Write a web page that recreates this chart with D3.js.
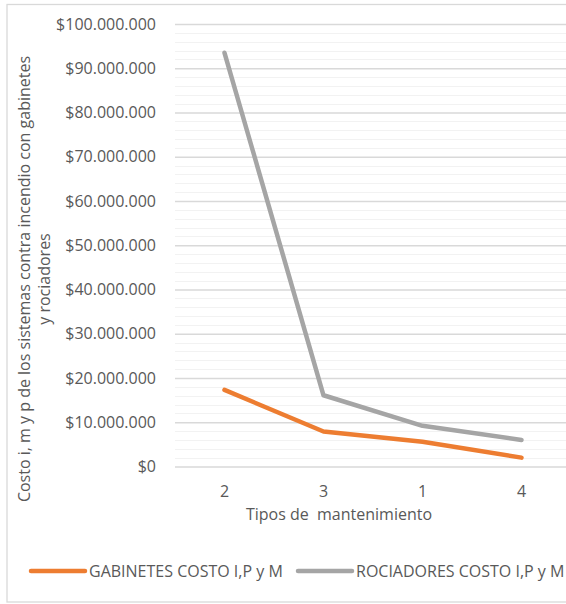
<!DOCTYPE html>
<html><head><meta charset="utf-8">
<script src="https://cdn.jsdelivr.net/npm/d3@7"></script>
<style>
html,body{margin:0;padding:0;background:#fff;}
svg{display:block;font-family:"Open Sans", "Noto Sans", sans-serif;}
</style></head>
<body>
<svg id="c" width="566" height="604"></svg>
<script>
const categories = ["2", "3", "1", "4"];
const gabinetes = [17300000, 7900000, 5600000, 2000000];
const rociadores = [93500000, 16100000, 9200000, 6000000];
const seriesNames = ["GABINETES COSTO I,P y M", "ROCIADORES COSTO I,P y M"];
const yTicks = [0,10000000,20000000,30000000,40000000,50000000,60000000,70000000,80000000,90000000,100000000];
const yTitle = ["Costo i, m y p de los sistemas contra incendio con gabinetes", "y rociadores"];
const xTitle = "Tipos de  mantenimiento";
const colors = ["#ED7D31", "#A5A5A5"];

(function(){
const svg = d3.select("#c");
const pL = 175, pR = 571, pT = 24, pB = 466.5;
const fs = 16;
const x = d3.scaleBand().domain(categories).range([pL, pR]);
const y = d3.scaleLinear().domain([0, 100000000]).range([pB, pT]);
const txt = "#595959";

// frame
svg.append("rect").attr("x", 7).attr("y", 4.5).attr("width", 580).attr("height", 597.5)
  .attr("fill", "#fff").attr("stroke", "#D9D9D9").attr("stroke-width", 1.3);

// minor grid
const minor = d3.range(0, 100000001, 2000000).filter(v => v % 10000000 !== 0);
svg.append("g").selectAll("line").data(minor).join("line")
  .attr("x1", pL).attr("x2", pR)
  .attr("y1", d => Math.round(y(d)) + 0.5).attr("y2", d => Math.round(y(d)) + 0.5)
  .attr("stroke", "#F2F2F2").attr("stroke-width", 1.2);

// major grid + y labels via axis
const fmt = v => "$" + d3.format(",")(v).replace(/,/g, ".");
const yAxis = d3.axisLeft(y).tickValues(yTicks).tickFormat(fmt).tickSize(-(pR - pL)).tickPadding(19);
const gy = svg.append("g").attr("transform", `translate(${pL},0)`).call(yAxis);
gy.select(".domain").remove();
gy.selectAll(".tick line").attr("stroke", "#D9D9D9").attr("stroke-width", 1.3);
gy.selectAll(".tick text").attr("fill", txt).attr("font-size", fs).attr("font-family", "Open Sans");

// x axis labels
const xAxis = d3.axisBottom(x).tickSize(0).tickPadding(19);
const gx = svg.append("g").attr("transform", `translate(0,${pB})`).call(xAxis);
gx.select(".domain").remove();
gx.selectAll(".tick text").attr("fill", txt).attr("font-size", fs).attr("font-family", "Open Sans");

// lines
const line = d3.line().x((d, i) => x(categories[i]) + x.bandwidth() / 2).y(d => y(d));
[gabinetes, rociadores].forEach((s, i) => {
  svg.append("path").datum(s).attr("d", line).attr("fill", "none")
    .attr("stroke", colors[i]).attr("stroke-width", 4.5)
    .attr("stroke-linecap", "round").attr("stroke-linejoin", "round");
});

// axis titles
const yt = svg.append("text").attr("transform", "translate(30,279) rotate(-90)")
  .attr("text-anchor", "middle").attr("fill", txt).attr("font-size", fs);
yt.append("tspan").attr("x", 0).attr("dy", 0).text(yTitle[0]);
yt.append("tspan").attr("x", 0).attr("dy", 20).text(yTitle[1]);

svg.append("text").attr("x", 339).attr("y", 520).attr("text-anchor", "middle")
  .attr("fill", txt).attr("font-size", fs).style("white-space", "pre").text(xTitle);

// legend
const legX = [31, 298];
seriesNames.forEach((n, i) => {
  const g = svg.append("g");
  g.append("line").attr("x1", legX[i]).attr("x2", legX[i] + 54).attr("y1", 571).attr("y2", 571)
    .attr("stroke", colors[i]).attr("stroke-width", 4.5).attr("stroke-linecap", "round");
  g.append("text").attr("x", legX[i] + 58).attr("y", 577).attr("fill", txt).attr("font-size", fs).text(n);
});
})();
</script>
</body></html>
